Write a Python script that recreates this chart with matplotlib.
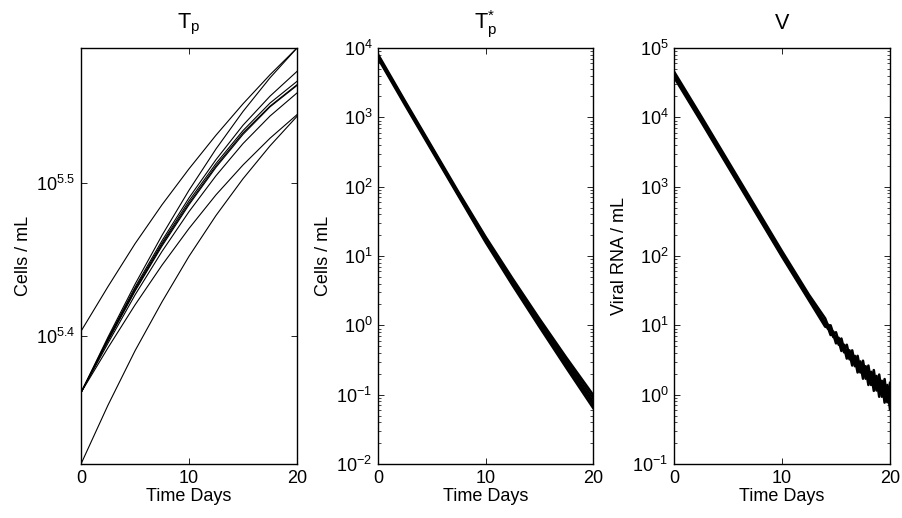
import numpy as np
import matplotlib
matplotlib.use('Agg')
import matplotlib.pyplot as plt
from matplotlib.ticker import FixedLocator, NullFormatter, NullLocator

plt.rcParams['font.family'] = 'Liberation Sans'
plt.rcParams['mathtext.fontset'] = 'custom'
plt.rcParams['mathtext.rm'] = 'Liberation Sans'
plt.rcParams['mathtext.it'] = 'Liberation Sans:italic'
plt.rcParams['font.size'] = 13

# ---- data (log10 values) ----
t1 = [0, 2.5, 5, 7.5, 10, 12.5, 15, 17.5, 20]
tp_log = [
    [5.4028, 5.4320, 5.4600, 5.4855, 5.5090, 5.5310, 5.5515, 5.5705, 5.5880],
    [5.3627, 5.3990, 5.4335, 5.4655, 5.4950, 5.5220, 5.5465, 5.5685, 5.5880],
    [5.3627, 5.3980, 5.4315, 5.4620, 5.4900, 5.5150, 5.5375, 5.5565, 5.5727],
    [5.3627, 5.3975, 5.4305, 5.4605, 5.4880, 5.5125, 5.5340, 5.5520, 5.5662],
    [5.3627, 5.3970, 5.4295, 5.4595, 5.4865, 5.5110, 5.5325, 5.5500, 5.5640],
    [5.3627, 5.3965, 5.4290, 5.4585, 5.4855, 5.5100, 5.5315, 5.5495, 5.5635],
    [5.3627, 5.3950, 5.4265, 5.4550, 5.4810, 5.5045, 5.5255, 5.5435, 5.5586],
    [5.3627, 5.3920, 5.4200, 5.4460, 5.4700, 5.4920, 5.5115, 5.5290, 5.5444],
    [5.3160, 5.3545, 5.3900, 5.4220, 5.4518, 5.4785, 5.5025, 5.5240, 5.5433],
]

t2 = [0, 2.5, 5, 7.5, 10, 12.5, 15, 17.5, 20]
tps_log = [
    [3.91, 3.24, 2.58, 1.92, 1.28, 0.68, 0.10, -0.46, -1.00],
    [3.89, 3.22, 2.56, 1.90, 1.26, 0.65, 0.07, -0.50, -1.05],
    [3.88, 3.21, 2.55, 1.89, 1.24, 0.63, 0.04, -0.54, -1.10],
    [3.87, 3.20, 2.54, 1.88, 1.22, 0.61, 0.01, -0.57, -1.14],
    [3.85, 3.18, 2.52, 1.86, 1.20, 0.58, -0.02, -0.61, -1.19],
]

t3 = [0, 2.5, 5, 7.5, 10, 12.5, 14, 14.25, 14.5, 14.75, 15, 15.25, 15.5, 15.75,
      16, 16.25, 16.5, 16.75, 17, 17.25, 17.5, 17.75, 18, 18.25, 18.5, 18.75,
      19, 19.25, 19.5, 19.75, 20]
v_log = [
    [4.66, 4.02, 3.37, 2.72, 2.07, 1.44,
     1.10, 1.00, 1.00, 0.88, 0.90, 0.765, 0.81, 0.655, 0.72, 0.55, 0.64, 0.45,
     0.56, 0.355, 0.49, 0.265, 0.42, 0.175, 0.355, 0.09, 0.29, 0.005, 0.225, -0.085, 0.17],
    [4.58, 3.94, 3.29, 2.64, 1.99, 1.36,
     0.98, 0.97, 0.86, 0.87, 0.74, 0.775, 0.63, 0.685, 0.52, 0.60, 0.42, 0.52,
     0.32, 0.445, 0.23, 0.375, 0.14, 0.305, 0.055, 0.24, -0.03, 0.175, -0.115, 0.115, -0.21],
    [4.63, 3.99, 3.34, 2.69, 2.04, 1.41,
     1.03, 1.01, 0.92, 0.91, 0.80, 0.82, 0.69, 0.72, 0.58, 0.64, 0.48, 0.56,
     0.39, 0.48, 0.30, 0.41, 0.21, 0.33, 0.13, 0.27, 0.04, 0.20, -0.04, 0.14, -0.13],
    [4.60, 3.96, 3.31, 2.66, 2.01, 1.38,
     1.04, 0.95, 0.94, 0.83, 0.84, 0.72, 0.75, 0.61, 0.65, 0.51, 0.57, 0.41,
     0.49, 0.32, 0.42, 0.23, 0.35, 0.14, 0.28, 0.06, 0.21, -0.03, 0.14, -0.11, 0.09],
]

titles  = ['T$_\\mathrm{p}$', 'T$_\\mathrm{p}^{*}$', 'V']
ylabels = ['Cells / mL', 'Cells / mL', 'Viral RNA / mL']
decades = [None, range(-2, 5), range(-1, 6)]

# ---- figure ----
fig = plt.figure(figsize=(9.02, 5.18), dpi=100)
W, H = 902., 518.
pos = [(81, 297), (378, 593), (674, 890)]
axs = [fig.add_axes([l/W, 1-464/H, (r-l)/W, (464-48)/H]) for l, r in pos]

# panel 1
ax = axs[0]
for y in tp_log:
    ax.plot(t1, 10**np.array(y), 'k-', lw=0.8)
allv = np.array(tp_log)
ax.set_yscale('log')
ax.set_ylim(10**allv.min(), 10**allv.max())
ax.yaxis.set_major_locator(FixedLocator([10**5.4, 10**5.5]))
ax.set_yticklabels(['$10^{5.4}$', '$10^{5.5}$'])
ax.yaxis.set_minor_locator(NullLocator())
ax.yaxis.set_minor_formatter(NullFormatter())

# panel 2
ax = axs[1]
for y in tps_log:
    ax.plot(t2, 10**np.array(y), 'k-', lw=1.7)
ax.set_yscale('log')
ax.set_ylim(1e-2, 1e4)

# panel 3
ax = axs[2]
for y in v_log:
    ax.plot(t3, 10**np.array(y), 'k-', lw=1.8)
ax.set_yscale('log')
ax.set_ylim(1e-1, 1e5)

for i, ax in enumerate(axs):
    ax.set_xlim(0, 20)
    ax.set_xticks([0, 10, 20])
    ax.set_title(titles[i], pad=14)
    ax.set_xlabel('Time Days', labelpad=1)
    ax.set_ylabel(ylabels[i], labelpad=3)
    ax.tick_params(which='both', direction='in', top=True, right=True)
    ax.tick_params(which='major', length=4, width=0.6, pad=4)
    ax.tick_params(which='minor', length=2, width=0.5)
    if i > 0:
        d = list(decades[i])
        ax.yaxis.set_major_locator(FixedLocator([10.0**k for k in d]))
        ax.set_yticklabels(['$10^{%d}$' % k for k in d])
        minors = [m * 10.0**k for k in d[:-1] for m in range(2, 10)]
        ax.yaxis.set_minor_locator(FixedLocator(minors))
        ax.yaxis.set_minor_formatter(NullFormatter())
    for s in ax.spines.values():
        s.set_linewidth(1.0)

fig.savefig('out.png', dpi=100)
